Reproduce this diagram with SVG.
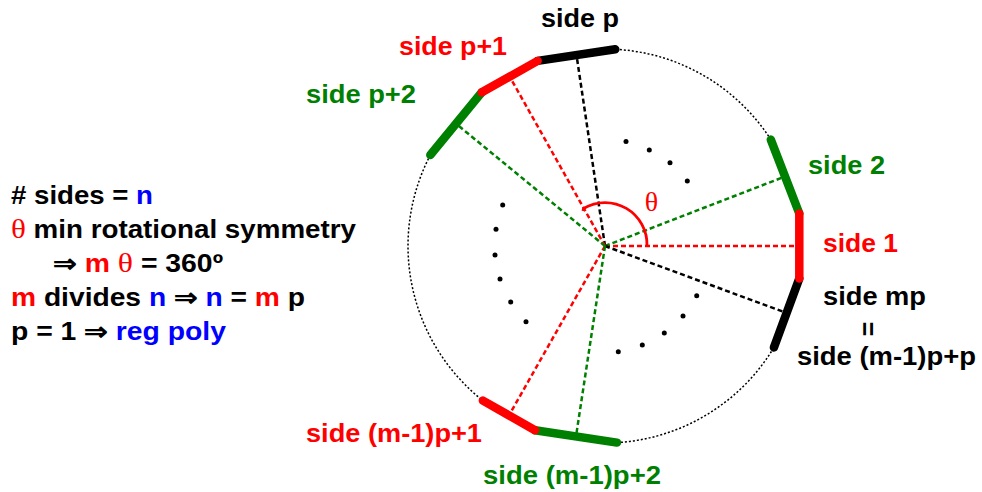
<svg xmlns="http://www.w3.org/2000/svg" width="982" height="492" viewBox="0 0 982 492">
<style>
text{font-family:"Liberation Sans",Arial,sans-serif;font-weight:bold;font-size:25px;}
.r{fill:#ff0000}.g{fill:#008000}.b{fill:#0000ff}.k{fill:#000000}
.th{font-family:"Liberation Serif","Times New Roman",serif;font-weight:normal;font-size:28px;}
.side{fill:none;stroke-width:8.5;stroke-linecap:round}
.dash{fill:none;stroke-width:2.5;stroke-dasharray:5,3}
.circ{fill:none;stroke:#000;stroke-width:1.5;stroke-dasharray:2,2}
.dot{fill:#000}
</style>
<rect width="982" height="492" fill="#ffffff"/>

<g id="legend">
<text x="11" y="204" textLength="142" lengthAdjust="spacingAndGlyphs"><tspan class="k"># sides = </tspan><tspan class="b">n</tspan></text>
<text x="11" y="238" textLength="345" lengthAdjust="spacingAndGlyphs"><tspan class="r th">θ</tspan><tspan class="k"> min rotational symmetry</tspan></text>
<text x="53" y="272" textLength="170" lengthAdjust="spacingAndGlyphs"><tspan class="k">⇒ </tspan><tspan class="r">m </tspan><tspan class="r th">θ</tspan><tspan class="k"> = 360º</tspan></text>
<text x="11" y="306" textLength="294" lengthAdjust="spacingAndGlyphs"><tspan class="r">m</tspan><tspan class="k"> divides </tspan><tspan class="b">n</tspan><tspan class="k"> ⇒ </tspan><tspan class="b">n</tspan><tspan class="k"> = </tspan><tspan class="r">m</tspan><tspan class="k"> p</tspan></text>
<text x="11" y="340" textLength="215" lengthAdjust="spacingAndGlyphs"><tspan class="k">p = 1 ⇒ </tspan><tspan class="b">reg poly</tspan></text>
</g>

<g id="circle">
<path class="circ" d="M770.8,139.6 A197,197 0 0 0 615.3,49.3"/>
<path class="circ" d="M430.3,155 A197,197 0 0 0 482.9,400.6"/>
<path class="circ" d="M617,442.6 A197,197 0 0 0 773.9,347.5"/>
</g>

<g id="connectors">
<line class="dash" stroke="#ff0000" x1="605" y1="246" x2="799.3" y2="246"/>
<line class="dash" stroke="#008000" x1="605" y1="246" x2="785" y2="176.5"/>
<line class="dash" stroke="#000000" x1="605" y1="246" x2="786.6" y2="313"/>
<line class="dash" stroke="#000000" x1="605" y1="246" x2="576.5" y2="55.1"/>
<line class="dash" stroke="#ff0000" x1="605" y1="246" x2="509.7" y2="76.6"/>
<line class="dash" stroke="#008000" x1="605" y1="246" x2="456" y2="123.7"/>
<line class="dash" stroke="#ff0000" x1="605" y1="246" x2="509" y2="415.4"/>
<line class="dash" stroke="#008000" x1="605" y1="246" x2="576" y2="436.4"/>
</g>

<g id="dots">
<circle class="dot" cx="626" cy="141.5" r="2.5"/>
<circle class="dot" cx="649.3" cy="150" r="2.5"/>
<circle class="dot" cx="670" cy="162.7" r="2.5"/>
<circle class="dot" cx="687.3" cy="181" r="2.5"/>
<circle class="dot" cx="502.7" cy="205" r="2.5"/>
<circle class="dot" cx="496" cy="229.3" r="2.5"/>
<circle class="dot" cx="495" cy="255" r="2.5"/>
<circle class="dot" cx="500" cy="279" r="2.5"/>
<circle class="dot" cx="510.7" cy="302" r="2.5"/>
<circle class="dot" cx="526" cy="321.7" r="2.5"/>
<circle class="dot" cx="696.7" cy="295.7" r="2.5"/>
<circle class="dot" cx="683" cy="316" r="2.5"/>
<circle class="dot" cx="664.3" cy="333" r="2.5"/>
<circle class="dot" cx="642.3" cy="345" r="2.5"/>
<circle class="dot" cx="618.3" cy="351.7" r="2.5"/>
</g>

<g id="theta">
<path d="M583,211 L583.5,208.5 A42,42 0 0 1 647,246" fill="none" stroke="#ff0000" stroke-width="2.8"/>
<text class="r th" x="651.5" y="211" text-anchor="middle">θ</text>
</g>

<g id="side-mp">
<line class="side" stroke="#000000" x1="799.3" y1="278.5" x2="773.9" y2="347.5"/>
<text class="k" x="823" y="305" textLength="103" lengthAdjust="spacingAndGlyphs">side mp</text>
<text class="k" transform="translate(869,329) rotate(90)" x="0" y="10" text-anchor="middle" font-size="30">=</text>
<text class="k" x="797" y="365" textLength="179" lengthAdjust="spacingAndGlyphs">side (m-1)p+p</text>
</g>
<g id="side-2">
<line class="side" stroke="#008000" x1="799.3" y1="213.5" x2="770.8" y2="139.6"/>
<text class="g" x="808" y="174" textLength="77" lengthAdjust="spacingAndGlyphs">side 2</text>
</g>
<g id="side-1">
<line class="side" stroke="#ff0000" stroke-linecap="butt" x1="799.3" y1="213.5" x2="799.3" y2="278.5"/>
<text class="r" x="823" y="252" textLength="75" lengthAdjust="spacingAndGlyphs">side 1</text>
</g>
<g id="side-p">
<line class="side" stroke="#000000" x1="615.3" y1="49.3" x2="537.6" y2="60.9"/>
<text class="k" x="541" y="27" textLength="78" lengthAdjust="spacingAndGlyphs">side p</text>
</g>
<g id="side-p2">
<line class="side" stroke="#008000" x1="481.8" y1="92.3" x2="430.3" y2="155"/>
<text class="g" x="306" y="103" textLength="110" lengthAdjust="spacingAndGlyphs">side p+2</text>
</g>
<g id="side-p1">
<line class="side" stroke="#ff0000" x1="537.6" y1="60.9" x2="481.8" y2="92.3"/>
<text class="r" x="399" y="55" textLength="108" lengthAdjust="spacingAndGlyphs">side p+1</text>
</g>
<g id="side-m1p2">
<line class="side" stroke="#008000" x1="535" y1="430.2" x2="617" y2="442.6"/>
<text class="g" x="483" y="484" textLength="178" lengthAdjust="spacingAndGlyphs">side (m-1)p+2</text>
</g>
<g id="side-m1p1">
<line class="side" stroke="#ff0000" x1="482.9" y1="400.6" x2="535" y2="430.2"/>
<text class="r" x="306" y="442" textLength="176" lengthAdjust="spacingAndGlyphs">side (m-1)p+1</text>
</g>
</svg>
